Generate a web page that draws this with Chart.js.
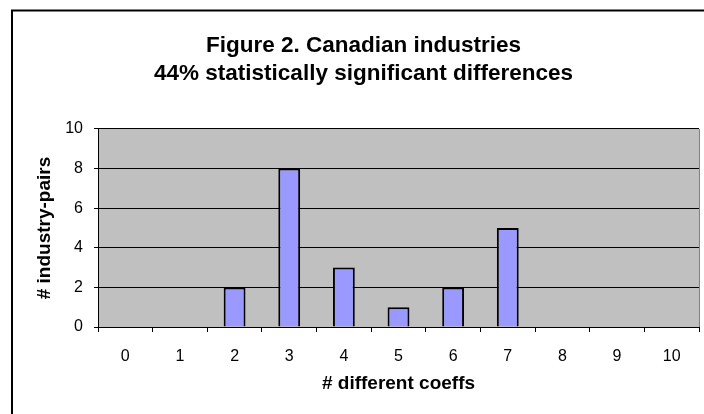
<!DOCTYPE html>
<html>
<head>
<meta charset="utf-8">
<script src="https://cdn.jsdelivr.net/npm/chart.js@4/dist/chart.umd.min.js"></script>
<style>
  html, body { margin: 0; padding: 0; background: #ffffff; }
  #wrap { width: 704px; height: 414px; position: relative; }
</style>
</head>
<body>
<div id="wrap"><canvas id="c" width="704" height="414"></canvas></div>
<script>
// Number of differing coefficients per industry pair
const categories = ['0', '1', '2', '3', '4', '5', '6', '7', '8', '9', '10'];
const pairCounts = [0, 0, 2, 8, 3, 1, 2, 5, 0, 0, 0];
const titleLines = ['Figure 2. Canadian industries', '44% statistically significant differences'];
const xAxisTitle = '# different coeffs';
const yAxisTitle = '# industry-pairs';

const FONT = "Arial, 'Liberation Sans', Helvetica, sans-serif";

// Gray plot background, right edge line and outer frame
const frame = {
  id: 'frame',
  beforeDraw(chart) {
    const { ctx, chartArea: a } = chart;
    ctx.save();
    ctx.fillStyle = '#ffffff';
    ctx.fillRect(0, 0, chart.width, chart.height);
    ctx.fillStyle = '#c0c0c0';
    ctx.fillRect(a.left, a.top, a.right - a.left, a.bottom - a.top);
    ctx.strokeStyle = '#808080';
    ctx.lineWidth = 1;
    ctx.beginPath();
    ctx.moveTo(a.right + 0.5, a.top);
    ctx.lineTo(a.right + 0.5, a.bottom);
    ctx.stroke();
    ctx.restore();
  },
  afterDraw(chart) {
    const ctx = chart.ctx;
    ctx.save();
    ctx.strokeStyle = '#000000';
    ctx.lineWidth = 2;
    ctx.strokeRect(12, 10.5, chart.width + 20, chart.height + 20);
    ctx.restore();
  }
};

new Chart(document.getElementById('c'), {
  type: 'bar',
  data: {
    labels: categories,
    datasets: [{
      data: pairCounts,
      backgroundColor: '#9999ff',
      borderColor: '#000000',
      borderWidth: 2,
      categoryPercentage: 1,
      barPercentage: 0.4
    }]
  },
  options: {
    responsive: false,
    animation: false,
    devicePixelRatio: 1,
    layout: { padding: { left: 28, right: 5, top: 0, bottom: 0 } },
    plugins: {
      legend: { display: false },
      tooltip: { enabled: false },
      title: {
        display: true,
        text: titleLines,
        color: '#000000',
        font: { family: FONT, size: 22.5, weight: 'bold', lineHeight: 1.244 },
        padding: { top: 32, bottom: 41 }
      }
    },
    scales: {
      x: {
        afterFit(scale) { scale.height = 87; },
        grid: {
          offset: true,
          drawOnChartArea: false,
          drawTicks: true,
          tickLength: 5,
          color: '#000000',
          lineWidth: 1
        },
        border: { color: '#000000', width: 1 },
        ticks: {
          color: '#000000',
          font: { family: FONT, size: 16 },
          padding: 15,
          maxRotation: 0
        },
        title: {
          display: true,
          text: xAxisTitle,
          color: '#000000',
          font: { family: FONT, size: 19, weight: 'bold', lineHeight: 1.2 },
          padding: { top: 18.5, bottom: 18.5 }
        }
      },
      y: {
        min: 0,
        max: 10,
        afterFit(scale) { scale.width = 70; },
        grid: {
          color: '#000000',
          lineWidth: 1,
          drawTicks: true,
          tickLength: 4
        },
        border: { color: '#000000', width: 1 },
        ticks: {
          stepSize: 2,
          color: '#000000',
          font: { family: FONT, size: 16 },
          padding: 11
        },
        title: {
          display: true,
          text: yAxisTitle,
          color: '#000000',
          font: { family: FONT, size: 19, weight: 'bold', lineHeight: 1.2 },
          padding: { top: 5, bottom: 5 }
        }
      }
    }
  },
  plugins: [frame]
});
</script>
</body>
</html>
